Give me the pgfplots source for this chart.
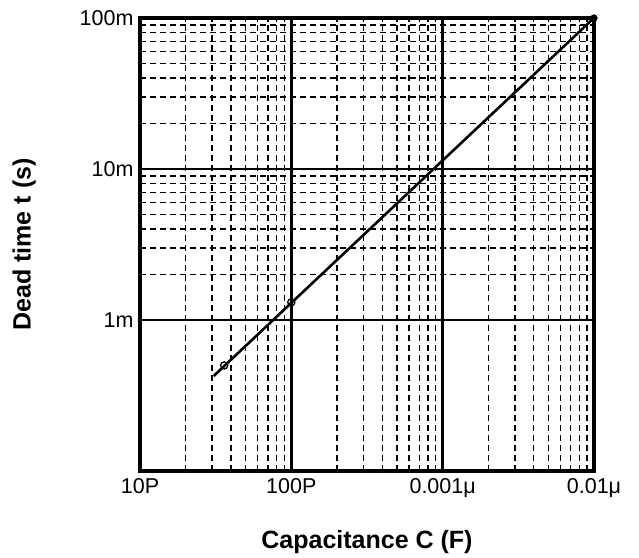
\documentclass[border=0pt]{standalone}
\usepackage{fontspec}
\setmainfont{Liberation Sans}
\usepackage{pgfplots}
\pgfplotsset{compat=1.18}
\begin{document}
\begin{tikzpicture}
\begin{axis}[
    name=ax,
    xmode=log, ymode=log,
    scale only axis,
    width=454pt, height=453pt,
    xmin=1e-11, xmax=1e-8,
    ymin=1e-4, ymax=1e-1,
    xtick={1e-11,1e-10,1e-9,1e-8},
    xticklabels={10P,100P,0.001μ,0.01μ},
    ytick={1e-3,1e-2,1e-1},
    yticklabels={1m,10m,100m},
    grid=both,
    major grid style={black, line width=2.6pt},
    minor grid style={black, line width=1.4pt, dash pattern=on 6pt off 4pt},
    axis line style={line width=3.2pt},
    major tick length=0pt,
    minor tick length=4pt,
    minor tick style={black, line width=1.4pt},
    tick align=inside,
    tick label style={font=\fontsize{21.5}{25}\selectfont},
    xticklabel style={yshift=-4pt},
    yticklabel style={xshift=-3pt},
    label style={font=\bfseries\fontsize{25}{30}\selectfont},
    xlabel={Capacitance C (F)},
    ylabel={Dead time t (s)},
    xlabel style={at={(axis description cs:0.5,-0.157)}, anchor=center},
    ylabel style={at={(axis description cs:-0.255,0.5)}, anchor=center},
]
% dead time vs capacitance
\addplot[black, line width=2.6pt] coordinates {
    (3.07e-11,4.26e-4) (1e-8,0.1)
};
\addplot[black, only marks, mark=o, mark size=3.6pt, line width=1.3pt] coordinates {
    (3.6e-11,5.0e-4) (1e-10,1.31e-3)
};
\addplot[black, only marks, mark=*, mark size=3.4pt] coordinates {
    (1e-8,0.1)
};
\end{axis}
\path (ax.south west) +(-140pt,-87pt) coordinate (bl);
\path (ax.north east) +(45pt,18pt) coordinate (tr);
\path (bl) (tr);
\end{tikzpicture}
\end{document}
